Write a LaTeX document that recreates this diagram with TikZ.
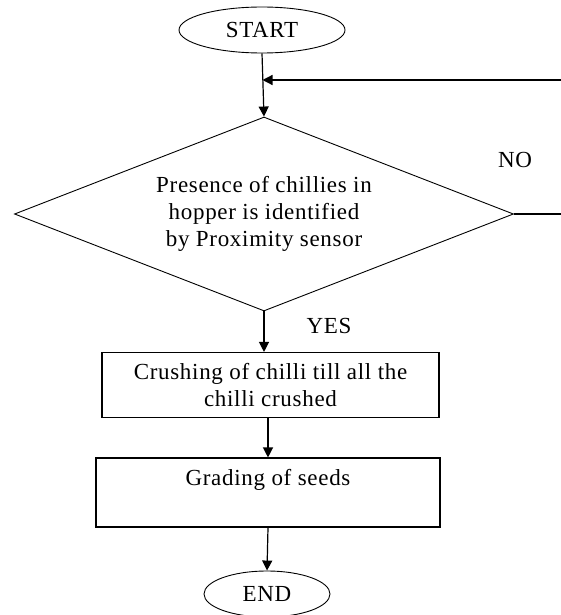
\documentclass[tikz,border=0pt]{standalone}
\usepackage{fontspec}
\setmainfont{Liberation Serif}[LetterSpace=3]
\usetikzlibrary{shapes.geometric,arrows.meta,calc}
\begin{document}
\begin{tikzpicture}[x=1pt,y=-1pt,
  every node/.style={font=\fontsize{23}{27}\selectfont},
  term/.style={draw,ellipse,line width=0.9pt,inner sep=0pt},
  decision/.style={draw,diamond,line width=0.9pt,inner sep=0pt,align=center},
  procbox/.style={draw,rectangle,line width=1.1pt,inner sep=0pt,align=center},
  lbl/.style={inner sep=0pt},
  flow/.style={line width=1.2pt,-{Triangle[length=10pt,width=10pt]}},
  plain/.style={line width=1.1pt}]
\useasboundingbox (0,0) rectangle (561,615);
\node[term,minimum width=166pt,minimum height=46pt] (start) at (262,30) {START};
\node[decision,minimum width=499pt,minimum height=194pt,aspect=2.57] (dia) at (264,214)
  {\fontsize{23}{27}\selectfont Presence of chillies in\\hopper is identified\\by Proximity sensor};
\node[procbox,minimum width=337pt,minimum height=65pt] (crush) at (270.5,385)
  {\fontsize{23}{23}\selectfont Crushing of chilli till all the\\chilli crushed};
\node[procbox,minimum width=344pt,minimum height=69pt] (grade) at (268,492.5) {};
\node[lbl] (gradetxt) at (268,480) {Grading of seeds};
\node[term,minimum width=126pt,minimum height=46pt] (end) at (267,594) {END};
\node[lbl] (no) at (515,160) {NO};
\node[lbl] (yes) at (329,326) {YES};
\coordinate (j) at (262.5,80);
\coordinate (r2) at (561,80);
\coordinate (r1) at (561,214);
\draw[flow] (start.south) -- (dia.north);
\draw[flow] (r2) -- (j);
\draw[plain] (dia.east) -- (r1);
\draw[flow] (dia.south) -- (dia.south |- crush.north);
\draw[flow] (crush.south -| grade.north) -- (grade.north);
\draw[flow] (grade.south) -- (end.north);
\end{tikzpicture}
\end{document}
